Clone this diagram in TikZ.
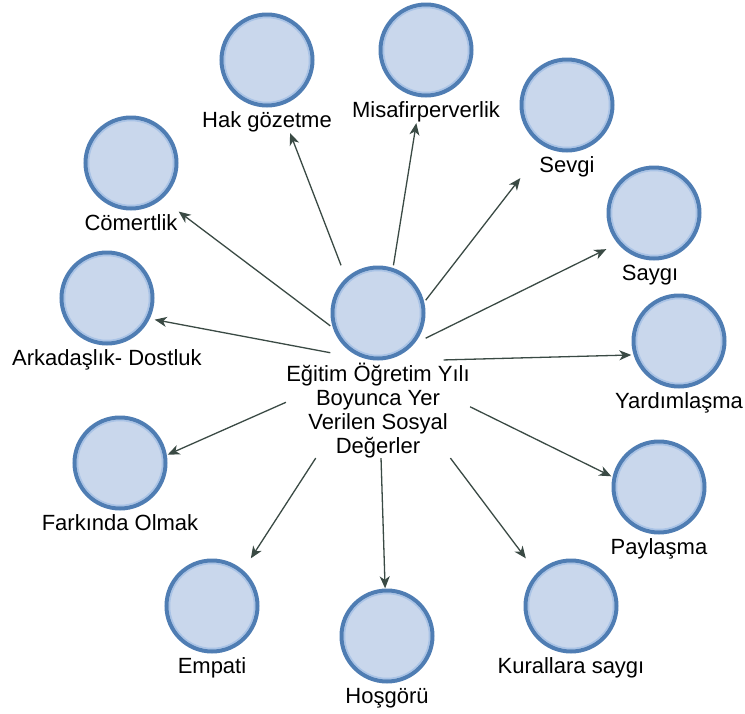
\documentclass[tikz,border=0pt]{standalone}
\usepackage{fontspec}
\setmainfont{Liberation Sans}
\usetikzlibrary{arrows.meta,positioning,fit}
\definecolor{valfill}{HTML}{C9D7EC}
\definecolor{valring}{HTML}{4F7DB3}
\definecolor{valshine}{HTML}{A9C3E6}
\definecolor{linkgrey}{HTML}{3A4A44}

\begin{document}
\begin{tikzpicture}
    [x=1pt, y=-1pt,
    font=\fontsize{22}{24}\selectfont,
    value/.style={circle, minimum size=91pt, inner sep=0pt,
        fill=valfill, draw=valring, line width=4pt,
        path picture={\draw[valshine, line width=1.5pt]
            (path picture bounding box.center) circle (42.5pt);}},
    caption/.style={inner sep=0pt, text height=16pt, text depth=5pt, text=black},
    group/.style={inner sep=0pt},
    link/.style={draw=linkgrey, line width=1.3pt,
        -{Stealth[length=12pt, width=10pt, inset=3.5pt]}},
    node distance=4pt]
    \useasboundingbox (0,0) rectangle (745,713);

    % centre
    \node[value] (hub) at (378,313) {};
    \node[inner sep=0pt, align=center, text=black, below=2pt of hub] (hubL)
        {Eğitim Öğretim Yılı\\Boyunca Yer\\Verilen Sosyal\\Değerler};

    % values round it
    \node[value] (hak) at (267,60) {};
    \node[caption, below=of hak] (hakL) {Hak gözetme};
    \node[value] (misafir) at (426,50) {};
    \node[caption, below=of misafir] (misafirL) {Misafirperverlik};
    \node[value] (sevgi) at (567,105) {};
    \node[caption, below=of sevgi] (sevgiL) {Sevgi};
    \node[value] (saygi) at (654,213) {};
    \node[caption, below=of saygi, xshift=-4pt] (saygiL) {Saygı};
    \node[value] (yardim) at (679,341) {};
    \node[caption, below=of yardim] (yardimL) {Yardımlaşma};
    \node[value] (paylasma) at (659,487) {};
    \node[caption, below=of paylasma] (paylasmaL) {Paylaşma};
    \node[value] (kural) at (571,606) {};
    \node[caption, below=of kural] (kuralL) {Kurallara saygı};
    \node[value] (hosgoru) at (387,636) {};
    \node[caption, below=of hosgoru] (hosgoruL) {Hoşgörü};
    \node[value] (empati) at (212,606) {};
    \node[caption, below=of empati] (empatiL) {Empati};
    \node[value] (farkinda) at (120,463) {};
    \node[caption, below=of farkinda] (farkindaL) {Farkında Olmak};
    \node[value] (arkadas) at (107,298) {};
    \node[caption, below=of arkadas] (arkadasL) {Arkadaşlık- Dostluk};
    \node[value] (comert) at (131,163) {};
    \node[caption, below=of comert] (comertL) {Cömertlik};

    % circle and caption taken together
    \foreach \v in {hub,hak,misafir,sevgi,saygi,yardim,paylasma,kural,hosgoru,empati,farkinda,arkadas,comert}
        \node[group, fit=(\v)(\v L.south)] (\v G) {};
    \node[group, fit=(hub)(hubL)] (hubW) {};

    \foreach \v in {hak,misafir,sevgi,saygi,arkadas,comert}
        \draw[link] (hubG) -- (\v G);
    \foreach \v in {paylasma,kural,hosgoru,empati,farkinda}
        \draw[link] (hubW) -- (\v G);
    \draw[link, shorten <=18pt] (hubG) -- (yardimG);
\end{tikzpicture}
\end{document}
